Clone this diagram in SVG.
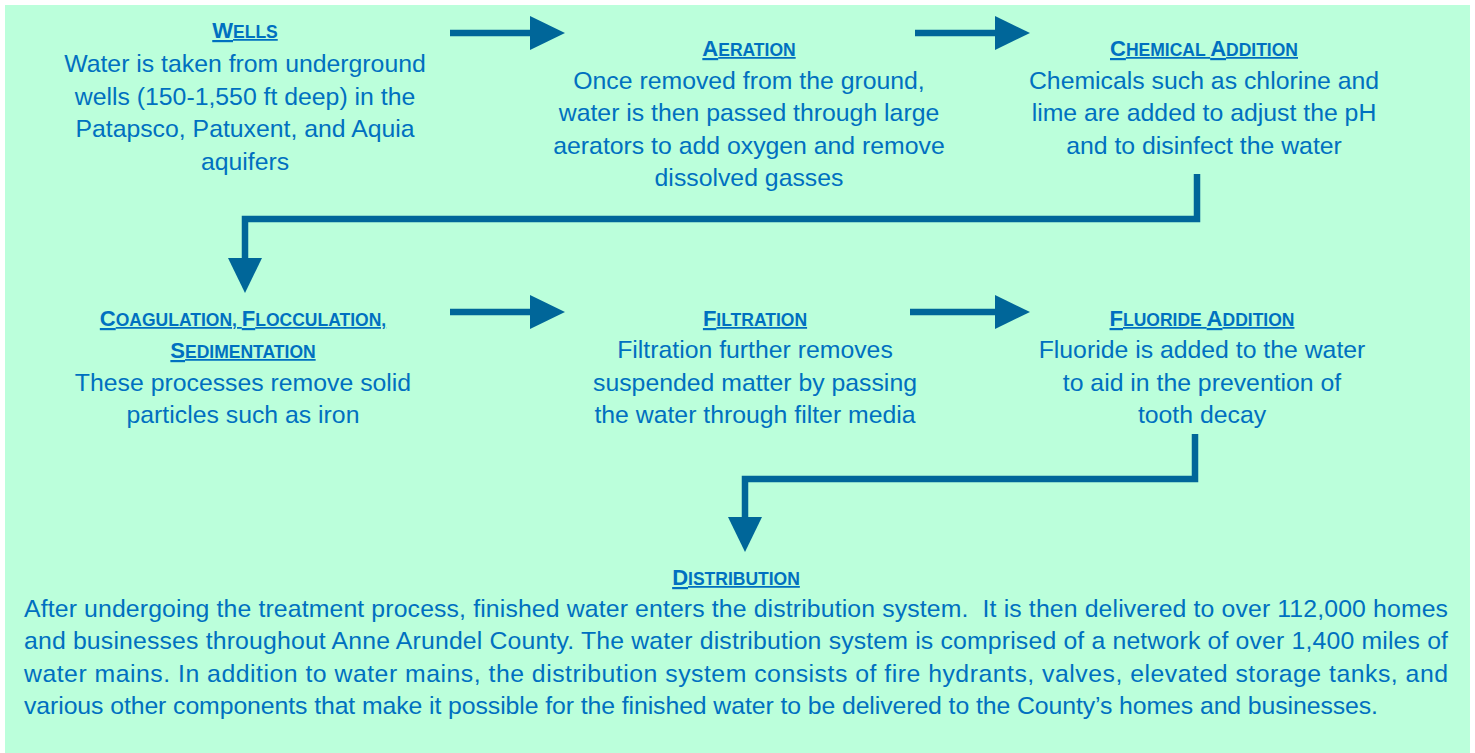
<svg xmlns="http://www.w3.org/2000/svg" width="1475" height="753" viewBox="0 0 1475 753">
<defs>
<style>
.body{font-family:"Liberation Sans",Arial,sans-serif;font-size:24.8px;fill:#0070C0;text-anchor:middle}
.para{font-family:"Liberation Sans",Arial,sans-serif;font-size:24.8px;fill:#0070C0;white-space:pre}
.title{font-family:"Liberation Sans",Arial,sans-serif;font-weight:bold;font-size:17.5px;fill:#0070C0;text-anchor:middle;text-decoration:underline}
.cap{font-size:22px}
.conn{fill:none;stroke:#006699;stroke-width:6.5;stroke-linejoin:miter}
</style>
<marker id="ah" markerUnits="userSpaceOnUse" markerWidth="36" markerHeight="34" refX="1" refY="17" orient="auto">
<path d="M0,0 L35,17 L0,34 Z" fill="#006699"/>
</marker>
</defs>
<rect x="5" y="5" width="1465" height="748" fill="#BBFFDB"/>

<g id="connectors">
<path class="conn" d="M450,33 H531" marker-end="url(#ah)"/>
<path class="conn" d="M915,33 H996" marker-end="url(#ah)"/>
<path class="conn" d="M450,312 H531" marker-end="url(#ah)"/>
<path class="conn" d="M910,312 H996" marker-end="url(#ah)"/>
<path class="conn" d="M1197,174 V219 H245 V259" marker-end="url(#ah)"/>
<path class="conn" d="M1195,434 V479 H745 V518" marker-end="url(#ah)"/>
</g>

<g id="wells">
<text class="title" x="245" y="38"><tspan class="cap">W</tspan>ELLS</text>
<text class="body" x="245" y="72">Water is taken from underground</text>
<text class="body" x="245" y="105">wells (150-1,550 ft deep) in the</text>
<text class="body" x="245" y="137">Patapsco, Patuxent, and Aquia</text>
<text class="body" x="245" y="170">aquifers</text>
</g>

<g id="aeration">
<text class="title" x="749" y="56"><tspan class="cap">A</tspan>ERATION</text>
<text class="body" x="749" y="89">Once removed from the ground,</text>
<text class="body" x="749" y="121">water is then passed through large</text>
<text class="body" x="749" y="154">aerators to add oxygen and remove</text>
<text class="body" x="749" y="186">dissolved gasses</text>
</g>

<g id="chemical">
<text class="title" x="1204" y="56"><tspan class="cap">C</tspan>HEMICAL <tspan class="cap">A</tspan>DDITION</text>
<text class="body" x="1204" y="89">Chemicals such as chlorine and</text>
<text class="body" x="1204" y="121">lime are added to adjust the pH</text>
<text class="body" x="1204" y="154">and to disinfect the water</text>
</g>

<g id="coagulation">
<text class="title" x="243" y="326"><tspan class="cap">C</tspan>OAGULATION, <tspan class="cap">F</tspan>LOCCULATION,</text>
<text class="title" x="243" y="358"><tspan class="cap">S</tspan>EDIMENTATION</text>
<text class="body" x="243" y="391">These processes remove solid</text>
<text class="body" x="243" y="423">particles such as iron</text>
</g>

<g id="filtration">
<text class="title" x="755" y="326"><tspan class="cap">F</tspan>ILTRATION</text>
<text class="body" x="755" y="358">Filtration further removes</text>
<text class="body" x="755" y="391">suspended matter by passing</text>
<text class="body" x="755" y="423">the water through filter media</text>
</g>

<g id="fluoride">
<text class="title" x="1202" y="326"><tspan class="cap">F</tspan>LUORIDE <tspan class="cap">A</tspan>DDITION</text>
<text class="body" x="1202" y="358">Fluoride is added to the water</text>
<text class="body" x="1202" y="391">to aid in the prevention of</text>
<text class="body" x="1202" y="423">tooth decay</text>
</g>

<g id="distribution">
<text class="title" x="736" y="585"><tspan class="cap">D</tspan>ISTRIBUTION</text>
<text class="para" x="24" y="617" textLength="1424" lengthAdjust="spacing">After undergoing the treatment process, finished water enters the distribution system.  It is then delivered to over 112,000 homes</text>
<text class="para" x="24" y="649" textLength="1424" lengthAdjust="spacing">and businesses throughout Anne Arundel County. The water distribution system is comprised of a network of over 1,400 miles of</text>
<text class="para" x="24" y="682" textLength="1424" lengthAdjust="spacing">water mains. In addition to water mains, the distribution system consists of fire hydrants, valves, elevated storage tanks, and</text>
<text class="para" x="24" y="714" textLength="1354" lengthAdjust="spacing">various other components that make it possible for the finished water to be delivered to the County’s homes and businesses.</text>
</g>
</svg>
